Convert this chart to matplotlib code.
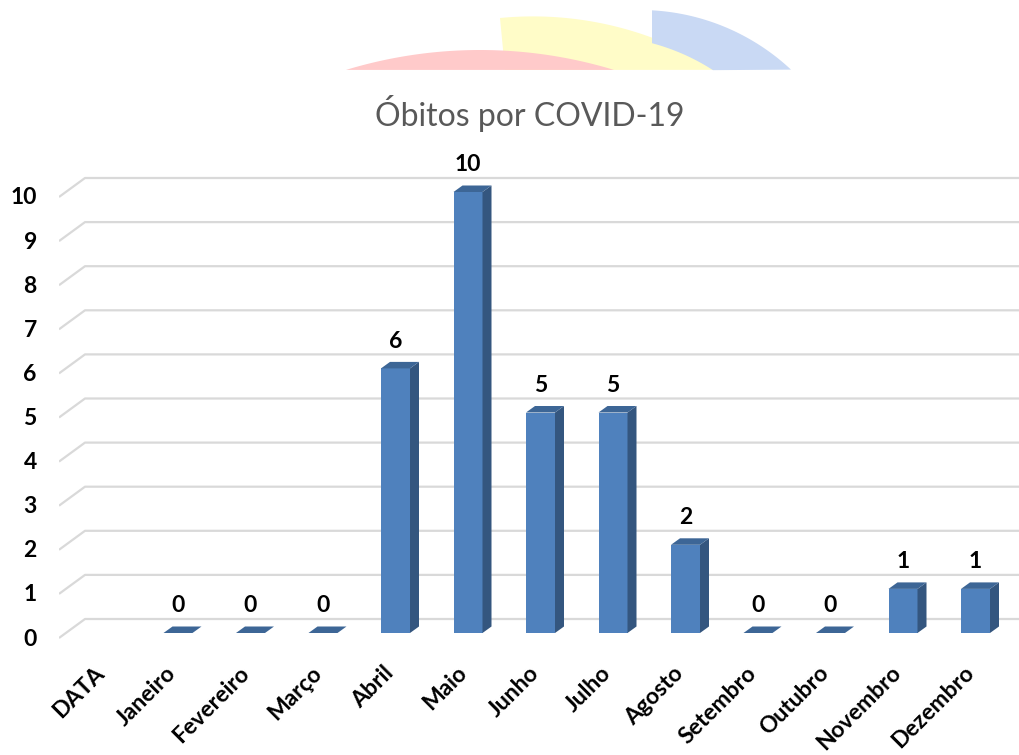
import matplotlib
matplotlib.use('Agg')
import matplotlib.pyplot as plt
import matplotlib.transforms as mtransforms
from matplotlib.patches import Polygon
import numpy as np

plt.rcParams['font.family'] = ['Lato', 'DejaVu Sans']

meses = ['DATA', 'Janeiro', 'Fevereiro', 'Março', 'Abril', 'Maio', 'Junho',
         'Julho', 'Agosto', 'Setembro', 'Outubro', 'Novembro', 'Dezembro']
obitos = [None, 0, 0, 0, 6, 10, 5, 5, 2, 0, 0, 1, 1]
yticks = list(range(0, 11))
titulo = 'Óbitos por COVID-19'

W, H = 1019, 755
fig = plt.figure(figsize=(W / 100, H / 100), dpi=100)

# pixel scale of the chart
px_cat = 72.5
px_val = 44.1
x0_px, y0_px = 105.5, 633

def fx(px):
    return (px - x0_px) / px_cat

def fy(py):
    return (y0_px - py) / px_val

ax = fig.add_axes([59 / W, (H - 660) / H, 960 / W, 510 / H])
ax.set_xlim(fx(59), fx(1019))
ax.set_ylim(fy(660), fy(150))
for s in ax.spines.values():
    s.set_visible(False)

# back wall gridlines with the slanted floor/side part on the left
wall_dx, wall_dy = 19.2 / px_cat, 14 / px_val
front_dy = -5 / px_val
for k in yticks:
    ax.plot([fx(59), fx(85), fx(1019)],
            [k + front_dy, k + wall_dy, k + wall_dy],
            color='#d9d9d9', lw=1.6, zorder=1, solid_capstyle='butt')

# bars: front face + side + top
bw = 29 / px_cat
ddx, ddy = 9 / px_cat, 6.5 / px_val
front_c, side_c, top_c = '#4f81bd', '#34567f', '#3d6696'
lab_size = 16.5
for i, v in enumerate(obitos):
    if v is None:
        continue
    ax.bar(i, v, width=bw, color=front_c, zorder=3, linewidth=0)
    xr = i + bw / 2
    xl = i - bw / 2
    ax.add_patch(Polygon([(xr, 0), (xr + ddx, ddy), (xr + ddx, v + ddy), (xr, v)],
                         closed=True, color=side_c, lw=0, zorder=3))
    ax.add_patch(Polygon([(xl, v), (xr, v), (xr + ddx, v + ddy), (xl + ddx, v + ddy)],
                         closed=True, color=top_c, lw=0, zorder=4))
    ax.text(i, v + 0.62, str(v), ha='center', va='center', fontsize=lab_size,
            fontweight='bold', color='black', zorder=5)

ax.set_yticks(yticks)
ax.set_yticklabels([str(t) for t in yticks], fontsize=lab_size, fontweight='bold')
ax.tick_params(axis='y', length=0, pad=16)
yoff = mtransforms.ScaledTranslation(0, -4 / 100, fig.dpi_scale_trans)
for lab in ax.get_yticklabels():
    lab.set_transform(lab.get_transform() + yoff)
ax.set_xticks(range(len(meses)))
ax.set_xticklabels(meses, rotation=45, ha='right', va='center',
                   rotation_mode='anchor', fontsize=lab_size, fontweight='bold')
ax.tick_params(axis='x', length=0, pad=7)
off = mtransforms.ScaledTranslation(-5 / 100, 0, fig.dpi_scale_trans)
for lab in ax.get_xticklabels():
    lab.set_transform(lab.get_transform() + off)

fig.text(530 / W, 1 - 113 / H, titulo, ha='center', va='center',
         fontsize=23, color='#595959')

# decorative arcs at the top (clipped at y=70 px)
deco = fig.add_axes([0, 0, 1, 1], zorder=-1)
deco.set_xlim(0, W)
deco.set_ylim(H, 0)
deco.axis('off')

def arc(cx, cy, r, xa, xb, n=80):
    xs = np.linspace(xa, xb, n)
    ys = cy - np.sqrt(np.clip(r ** 2 - (xs - cx) ** 2, 0, None))
    return list(zip(xs, ys))

yellow = arc(533, 360, 343.6, 500, 717) + [(505, 70)]
blue = arc(640, 231, 221, 652, 791) + arc(597, 250, 214, 713, 652)
red = arc(480, 511, 461, 346, 614)
deco.add_patch(Polygon(yellow, closed=True, color='#fffcc8', lw=0))
deco.add_patch(Polygon(blue, closed=True, color='#c9d9f4', lw=0))
deco.add_patch(Polygon(red, closed=True, color='#ffcaca', lw=0))

fig.savefig('out.png', dpi=100, facecolor='white')
